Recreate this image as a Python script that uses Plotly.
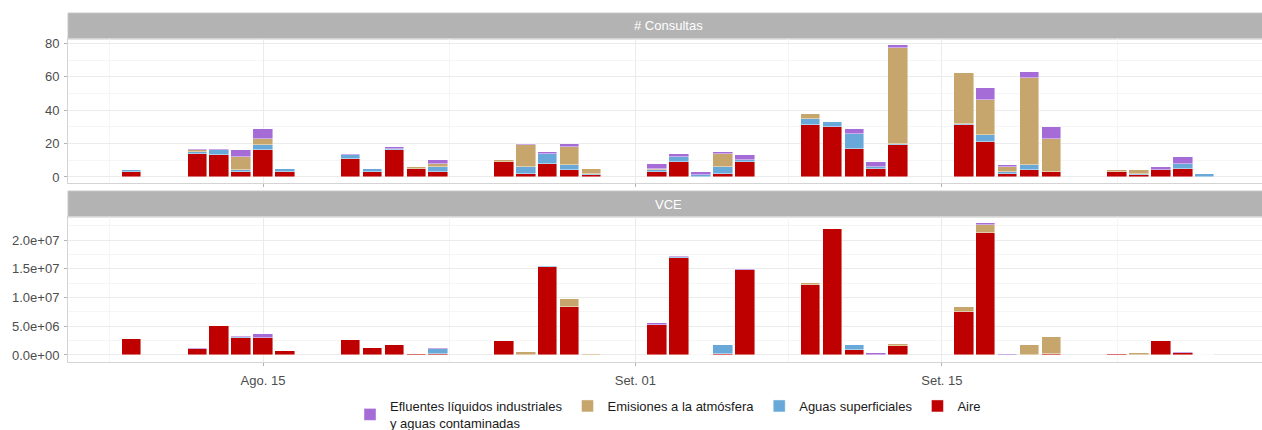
import datetime as dt
import plotly.graph_objects as go
from plotly.subplots import make_subplots

# ---------------- data ----------------
dates = [
    "2024-08-09",
    "2024-08-12", "2024-08-13", "2024-08-14", "2024-08-15", "2024-08-16",
    "2024-08-19", "2024-08-20", "2024-08-21", "2024-08-22", "2024-08-23",
    "2024-08-26", "2024-08-27", "2024-08-28", "2024-08-29", "2024-08-30",
    "2024-09-02", "2024-09-03", "2024-09-04", "2024-09-05", "2024-09-06",
    "2024-09-09", "2024-09-10", "2024-09-11", "2024-09-12", "2024-09-13",
    "2024-09-16", "2024-09-17", "2024-09-18", "2024-09-19", "2024-09-20",
    "2024-09-23", "2024-09-24", "2024-09-25", "2024-09-26", "2024-09-27",
]

# "# Consultas" panel
consultas_aire = [3, 14, 13, 3, 16, 3, 11, 3, 16, 5, 3, 9, 2, 8, 4, 1, 3, 9, 0, 2, 9,
                  31, 30, 17, 5, 19, 31, 21, 2, 4, 3, 3, 1, 4, 5, 0]
consultas_aguas = [1, 1, 3, 1, 3, 2, 2, 2, 1, 0, 3, 0, 4, 6, 3, 1, 1, 3, 1, 4, 1,
                   4, 3, 9, 1, 1, 1, 4, 1, 3, 0, 0, 1, 0, 3, 2]
consultas_emisiones = [0, 1, 0, 8, 4, 0, 0, 0, 0, 1, 2, 1, 13, 0, 11, 3, 1, 0, 0, 8, 0,
                       3, 0, 0, 0, 57, 30, 21, 3, 52, 20, 1, 2, 0, 0, 0]
consultas_efluentes = [0, 1, 1, 4, 6, 0, 1, 0, 1, 0, 2, 0, 1, 1, 2, 0, 3, 2, 2, 1, 3,
                       0, 0, 3, 3, 2, 0, 7, 1, 4, 7, 0, 0, 2, 4, 0]

# "VCE" panel
vce_aire = [2.8e6, 1.1e6, 5.0e6, 2.9e6, 3.0e6, 0.7e6, 2.65e6, 1.2e6, 1.7e6, 0.2e6, 0.2e6,
            2.5e6, 0.05e6, 15.25e6, 8.4e6, 0.05e6, 5.3e6, 16.9e6, 0.0, 0.25e6, 14.8e6,
            12.15e6, 21.85e6, 0.87e6, 0.05e6, 1.62e6, 7.5e6, 21.2e6, 0.03e6, 0.05e6, 0.2e6,
            0.15e6, 0.0, 2.4e6, 0.35e6, 0.0]
vce_aguas = [0, 0, 0, 0.25e6, 0, 0, 0, 0, 0, 0, 0.8e6,
             0, 0, 0.3e6, 0, 0, 0, 0.2e6, 0, 1.45e6, 0,
             0, 0.1e6, 0.87e6, 0, 0, 0, 0, 0, 0, 0,
             0, 0, 0, 0, 0.02e6]
vce_emisiones = [0, 0, 0, 0, 0, 0, 0, 0, 0, 0, 0,
                 0, 0.55e6, 0, 1.3e6, 0.15e6, 0, 0, 0, 0, 0,
                 0.3e6, 0, 0, 0, 0.28e6, 0.8e6, 1.4e6, 0, 1.7e6, 2.95e6,
                 0, 0.4e6, 0, 0, 0]
vce_efluentes = [0, 0.06e6, 0, 0.2e6, 0.6e6, 0, 0.03e6, 0, 0, 0, 0.2e6,
                 0, 0, 0, 0.1e6, 0, 0.35e6, 0.1e6, 0.02e6, 0, 0.2e6,
                 0, 0.05e6, 0, 0.25e6, 0.05e6, 0, 0.3e6, 0.15e6, 0, 0,
                 0, 0, 0, 0.17e6, 0]

series_names = ["Aire", "Aguas superficiales", "Emisiones a la atmósfera",
                "Efluentes líquidos industriales<br>y aguas contaminadas"]
series_colors = ["#BE0000", "#68A9D9", "#C6A66C", "#A56BD6"]

panel_titles = ["# Consultas", "VCE"]

x_tickvals = ["2024-08-15", "2024-09-01", "2024-09-15"]
x_ticktext = ["Ago. 15", "Set. 01", "Set. 15"]
x_minorvals = ["2024-08-08", "2024-08-23 12:00", "2024-09-08", "2024-09-23"]

y1_tickvals = [0, 20, 40, 60, 80]
y1_ticktext = ["0", "20", "40", "60", "80"]
y1_minorvals = [10, 30, 50, 70]
y2_tickvals = [0, 5e6, 1e7, 1.5e7, 2e7]
y2_ticktext = ["0.0e+00", "5.0e+06", "1.0e+07", "1.5e+07", "2.0e+07"]
y2_minorvals = [2.5e6, 7.5e6, 1.25e7, 1.75e7, 2.25e7]

# ---------------- figure ----------------
W, H = 1262, 430
fig = make_subplots(rows=2, cols=1, shared_xaxes=False, vertical_spacing=0.0)

DAY_MS = 86400000
bar_width = 0.89 * DAY_MS

top_series = [consultas_aire, consultas_aguas, consultas_emisiones, consultas_efluentes]
bot_series = [vce_aire, vce_aguas, vce_emisiones, vce_efluentes]


def nz(vals):
    return [v if v != 0 else None for v in vals]


for i, (name, color) in enumerate(zip(series_names, series_colors)):
    fig.add_trace(go.Bar(
        x=dates, y=nz(top_series[i]), name=name, width=bar_width,
        marker=dict(color=color, line=dict(color="rgba(255,255,255,0.55)", width=0.8)),
        legendgroup=name, showlegend=True,
    ), row=1, col=1)
    fig.add_trace(go.Bar(
        x=dates, y=nz(bot_series[i]), name=name, width=bar_width,
        marker=dict(color=color, line=dict(color="rgba(255,255,255,0.55)", width=0.8)),
        legendgroup=name, showlegend=False,
    ), row=2, col=1)

# geometry in window pixels (body margin removed below)
page_left, page_right = 68, 1262
page_top, page_bottom = 13, 362
ml = page_left
mr = W - page_right
mt = page_top
mb = H - page_bottom
plot_h = page_bottom - page_top
plot_w = page_right - page_left


def yfrac(py):
    return (page_bottom - py) / plot_h


def xfrac(px):
    return (px - page_left) / plot_w


top_dom = [yfrac(183), yfrac(39)]
top_strip = [yfrac(39), yfrac(13)]
bot_dom = [yfrac(362), yfrac(217)]
bot_strip = [yfrac(217), yfrac(191)]

# x range: 21.9 px per day, Aug 15 at window px 263
px_per_day = 21.9
ref = dt.datetime(2024, 8, 15)
x_left = ref - dt.timedelta(days=(263 - page_left) / px_per_day)
x_right = ref + dt.timedelta(days=(page_right - 263) / px_per_day)
xrange = [x_left.strftime("%Y-%m-%d %H:%M"), x_right.strftime("%Y-%m-%d %H:%M")]

grid_major = "#EBEBEB"
grid_minor = "#F5F5F5"
border = "#D4D4D4"
tick_font = dict(family="Liberation Sans, Arial, sans-serif", size=13, color="#4D4D4D")

common_x = dict(
    type="date", range=xrange, showgrid=True, gridcolor=grid_major, gridwidth=1,
    tickmode="array", tickvals=x_tickvals, ticktext=x_ticktext,
    minor=dict(tickmode="array", tickvals=x_minorvals, showgrid=True,
               gridcolor=grid_minor, gridwidth=1, ticks=""),
    showline=True, linecolor=border, linewidth=1, mirror=True,
    ticks="outside", ticklen=3, tickcolor="#B3B3B3", tickfont=tick_font,
    ticklabelstandoff=3,
    zeroline=False, automargin=False,
)
fig.update_xaxes(**common_x)
fig.update_xaxes(showticklabels=False, row=1, col=1)
fig.update_xaxes(showticklabels=True, row=2, col=1)

fig.update_yaxes(
    showgrid=True, gridcolor=grid_major, gridwidth=1, zeroline=False,
    showline=True, linecolor=border, linewidth=1, mirror=True,
    ticks="outside", ticklen=3, tickcolor="#B3B3B3", tickfont=tick_font,
    ticklabelstandoff=2, automargin=False,
)
fig.update_yaxes(
    domain=top_dom, range=[-3.6, 82.6], tickmode="array",
    tickvals=y1_tickvals, ticktext=y1_ticktext,
    minor=dict(tickmode="array", tickvals=y1_minorvals, showgrid=True,
               gridcolor=grid_minor, gridwidth=1, ticks=""),
    row=1, col=1,
)
fig.update_yaxes(
    domain=bot_dom, range=[-1.22e6, 24.0e6], tickmode="array",
    tickvals=y2_tickvals, ticktext=y2_ticktext,
    minor=dict(tickmode="array", tickvals=y2_minorvals, showgrid=True,
               gridcolor=grid_minor, gridwidth=1, ticks=""),
    row=2, col=1,
)

# strips
strip_color = "#B3B3B3"
for dom, title in [(top_strip, panel_titles[0]), (bot_strip, panel_titles[1])]:
    fig.add_shape(type="rect", xref="paper", yref="paper", x0=0, x1=1.01,
                  y0=dom[0], y1=dom[1], fillcolor=strip_color,
                  line=dict(color="#C8C8C8", width=1), layer="below")
    fig.add_annotation(text=title, xref="paper", yref="paper",
                       x=xfrac(668), y=(dom[0] + dom[1]) / 2,
                       xanchor="center", yanchor="middle", showarrow=False,
                       font=dict(family="Liberation Sans, Arial, sans-serif",
                                 size=13, color="white"))

fig.update_layout(
    width=W, height=H,
    margin=dict(l=ml, r=mr, t=mt, b=mb, pad=0, autoexpand=False),
    barmode="stack", bargap=0,
    plot_bgcolor="white", paper_bgcolor="white",
    font=dict(family="Liberation Sans, Arial, sans-serif", size=13, color="#1A1A1A"),
    legend=dict(
        orientation="h", traceorder="reversed",
        x=xfrac(668), xanchor="center",
        y=-(391 - page_bottom) / plot_h, yanchor="top",
        font=dict(family="Liberation Sans, Arial, sans-serif", size=13, color="#1A1A1A"),
        bgcolor="rgba(0,0,0,0)", valign="middle",
    ),
)

fig.write_html(
    "out.html",
    config={"displayModeBar": False},
    post_script="document.body.style.margin='0';document.body.style.overflow='hidden';",
)
